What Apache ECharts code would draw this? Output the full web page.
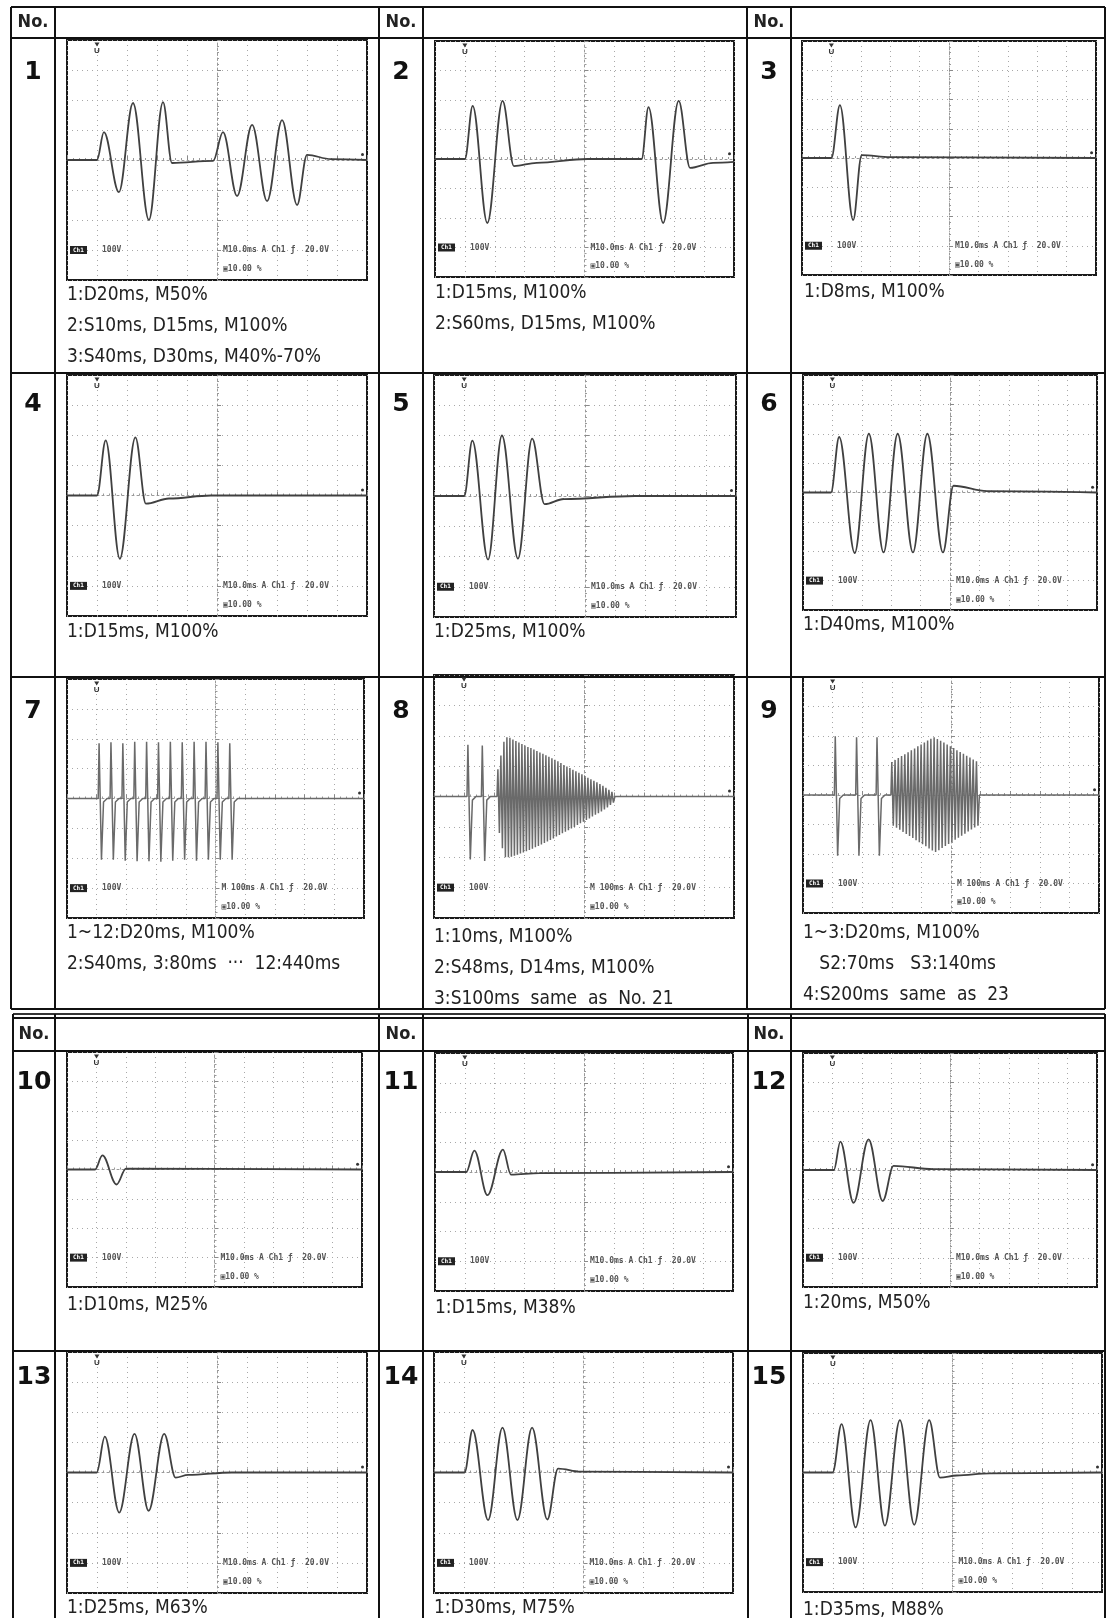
<!DOCTYPE html>
<html>
<head>
<meta charset="utf-8">
<script src="https://cdn.jsdelivr.net/npm/echarts@6/dist/echarts.min.js"></script>
<style>
  html, body { margin: 0; padding: 0; background: #fff; }
  #chart { width: 1106px; height: 1618px; }
</style>
</head>
<body>
<div id="chart"></div>
<script>
// scope traces, in divisions: x -5..5 (10 div), y -4..4 (8 div)
const wave1 = [[-5,0],[-4,0],[-3.77,0.93],[-3.27,-1.07],[-2.8,1.9],[-2.27,-2.0],[-1.8,1.93],[-1.5,-0.1],[-0.13,-0.03],[0.2,0.93],[0.67,-1.2],[1.17,1.17],[1.67,-1.37],[2.17,1.33],[2.67,-1.5],[3.0,0.17],[3.8,0.03],[5,0]];
const wave2 = [[-5,0],[-4,0],[-3.74,1.8],[-3.25,-2.17],[-2.74,1.97],[-2.36,-0.24],[-1.6,-0.13],[0.1,0],[1.91,0],[2.14,1.76],[2.63,-2.17],[3.15,1.97],[3.53,-0.3],[4.3,-0.13],[5,-0.1]];
const wave3 = [[-5,0],[-4,0],[-3.71,1.81],[-3.26,-2.12],[-2.97,0.1],[-2.0,0.03],[5,0]];
const wave4 = [[-5,0],[-4,0],[-3.71,1.83],[-3.24,-2.1],[-2.72,1.93],[-2.37,-0.27],[-1.6,-0.1],[-0.2,0],[5,0]];
const wave5 = [[-5,0],[-4,0],[-3.73,1.83],[-3.21,-2.1],[-2.75,2.0],[-2.22,-2.07],[-1.75,1.9],[-1.34,-0.27],[-0.7,-0.1],[1.65,0],[5,0]];
const wave6 = [[-5,0],[-4.05,0],[-3.77,1.89],[-3.24,-2.06],[-2.76,2.0],[-2.26,-2.04],[-1.78,2.0],[-1.26,-2.04],[-0.77,2.0],[-0.24,-2.04],[0.12,0.23],[1.26,0.05],[5,0]];
const wave10 = [[-5,0],[-4.05,0],[-3.8,0.48],[-3.32,-0.51],[-3.0,0.03],[5,0]];
const wave11 = [[-5,0],[-3.95,0],[-3.68,0.72],[-3.24,-0.78],[-2.72,0.75],[-2.45,-0.09],[-1.5,-0.04],[5,0]];
const wave12 = [[-5,0],[-3.95,0],[-3.73,0.97],[-3.28,-1.12],[-2.77,1.05],[-2.29,-1.06],[-1.92,0.14],[-0.57,0.03],[5,0]];
const wave13 = [[-5,0],[-4.01,0],[-3.74,1.19],[-3.26,-1.33],[-2.75,1.28],[-2.28,-1.27],[-1.76,1.28],[-1.38,-0.17],[-0.96,-0.08],[0.5,0],[5,0]];
const wave14 = [[-5,0],[-3.98,0],[-3.71,1.41],[-3.19,-1.58],[-2.71,1.49],[-2.21,-1.58],[-1.72,1.49],[-1.21,-1.56],[-0.85,0.13],[-0.1,0.03],[5,0]];
const wave15 = [[-5,0],[-4.01,0],[-3.71,1.62],[-3.24,-1.84],[-2.74,1.75],[-2.26,-1.78],[-1.76,1.75],[-1.28,-1.75],[-0.78,1.75],[-0.42,-0.17],[0.14,-0.1],[1.25,-0.03],[5,0]];

// No.7: twelve short pulses
const spike7At = [-3.95,-3.55,-3.15,-2.75,-2.35,-1.95,-1.55,-1.15,-0.75,-0.35,0.05,0.45];
const spike7Up = [1.85,1.88,1.85,1.9,1.9,1.88,1.9,1.88,1.9,1.9,1.88,1.85];
const spike7Down = [-2.05,-2.05,-2.08,-2.1,-2.1,-2.12,-2.08,-2.05,-2.08,-2.05,-2.05,-2.05];

// No.8: two pulses then a fading burst
const spike8At = [-3.9,-3.42];
const spike8Up = [1.7,1.68];
const spike8Down = [-2.07,-2.12];
const burst8At = [-2.87,-2.77,-2.67,-2.57,-2.47,-2.37,-2.27,-2.17,-2.07,-1.97,-1.87,-1.77,-1.67,-1.57,-1.47,-1.37,-1.27,-1.17,-1.07,-0.97,-0.87,-0.77,-0.67,-0.57,-0.47,-0.37,-0.27,-0.17,-0.07,0.03,0.13,0.23,0.33,0.43,0.53,0.63,0.73,0.83,0.93];
const burst8Up = [0.9,1.35,1.8,1.95,1.93,1.88,1.83,1.78,1.73,1.68,1.63,1.6,1.55,1.5,1.45,1.41,1.36,1.31,1.26,1.21,1.16,1.1,1.04,0.99,0.94,0.88,0.83,0.78,0.73,0.67,0.62,0.57,0.52,0.47,0.41,0.35,0.29,0.22,0.15];
const burst8Down = [-1.2,-1.7,-2.0,-2.0,-1.98,-1.95,-1.92,-1.88,-1.84,-1.8,-1.76,-1.72,-1.67,-1.63,-1.58,-1.53,-1.48,-1.43,-1.38,-1.32,-1.27,-1.21,-1.16,-1.11,-1.05,-1.0,-0.94,-0.88,-0.83,-0.77,-0.72,-0.66,-0.6,-0.55,-0.49,-0.43,-0.36,-0.28,-0.2];

// No.9: three pulses then a swelling burst
const spike9At = [-3.94,-3.22,-2.53];
const spike9Up = [1.99,1.96,1.96];
const spike9Down = [-2.06,-2.06,-2.06];
const burst9At = [-2.0,-1.89,-1.78,-1.67,-1.56,-1.45,-1.34,-1.23,-1.12,-1.01,-0.9,-0.79,-0.68,-0.57,-0.46,-0.35,-0.24,-0.13,-0.02,0.09,0.2,0.31,0.42,0.53,0.64,0.75,0.86];
const burst9Up = [1.12,1.19,1.25,1.32,1.38,1.45,1.52,1.58,1.65,1.71,1.78,1.85,1.91,1.96,1.9,1.84,1.78,1.71,1.65,1.59,1.52,1.46,1.4,1.33,1.27,1.2,1.14];
const burst9Down = [-1.04,-1.11,-1.18,-1.25,-1.32,-1.39,-1.46,-1.53,-1.6,-1.67,-1.74,-1.81,-1.88,-1.93,-1.87,-1.8,-1.73,-1.66,-1.59,-1.52,-1.45,-1.38,-1.31,-1.24,-1.17,-1.1,-1.04];

// cell texts
const cellNames = ['1','2','3','4','5','6','7','8','9','10','11','12','13','14','15'];
const timeBase = ['M10.0ms','M10.0ms','M10.0ms','M10.0ms','M10.0ms','M10.0ms','M 100ms','M 100ms','M 100ms','M10.0ms','M10.0ms','M10.0ms','M10.0ms','M10.0ms','M10.0ms'];
const captions = [
  ['1:D20ms, M50%', '2:S10ms, D15ms, M100%', '3:S40ms, D30ms, M40%-70%'],
  ['1:D15ms, M100%', '2:S60ms, D15ms, M100%'],
  ['1:D8ms, M100%'],
  ['1:D15ms, M100%'],
  ['1:D25ms, M100%'],
  ['1:D40ms, M100%'],
  ['1~12:D20ms, M100%', '2:S40ms, 3:80ms  ···  12:440ms'],
  ['1:10ms, M100%', '2:S48ms, D14ms, M100%', '3:S100ms  same  as  No. 21'],
  ['1~3:D20ms, M100%', '   S2:70ms   S3:140ms', '4:S200ms  same  as  23'],
  ['1:D10ms, M25%'],
  ['1:D15ms, M38%'],
  ['1:20ms, M50%'],
  ['1:D25ms, M63%'],
  ['1:D30ms, M75%'],
  ['1:D35ms, M88%']
];

function pulseTrain(at, up, down) {
  const pts = [];
  at.forEach((s, i) => {
    pts.push([s, 0], [s + 0.03, up[i]], [s + 0.11, down[i]], [s + 0.18, -0.12], [s + 0.3, 0]);
  });
  return pts;
}
function burst(at, up, down) {
  const pts = [[at[0] - 0.03, 0]];
  at.forEach((s, i) => pts.push([s, up[i]], [s + 0.05, down[i]]));
  pts.push([at[at.length - 1] + 0.1, 0]);
  return pts;
}

const wave7 = [[-5,0], ...pulseTrain(spike7At, spike7Up, spike7Down), [5,0]];
const wave8 = [[-5,0], ...pulseTrain(spike8At, spike8Up, spike8Down), ...burst(burst8At, burst8Up, burst8Down), [5,0]];
const wave9 = [[-5,0], ...pulseTrain(spike9At, spike9Up, spike9Down), ...burst(burst9At, burst9Up, burst9Down), [5,0]];

const waves = [wave1, wave2, wave3, wave4, wave5, wave6, wave7, wave8, wave9, wave10, wave11, wave12, wave13, wave14, wave15];
const dense = [false, false, false, false, false, false, true, true, true, false, false, false, false, false, false];

// layout: scope screens [left, top, width, height]
const boxes = [
  [67, 40, 300, 240], [435, 41, 299, 236], [802, 41, 294, 234],
  [67, 375, 300, 241], [434, 375, 302, 242], [803, 375, 294, 235],
  [67, 679, 297, 239], [434, 675, 300, 243], [803, 677, 296, 236],
  [67, 1052, 295, 235], [435, 1053, 298, 238], [803, 1053, 294, 234],
  [67, 1352, 300, 241], [434, 1352, 299, 241], [803, 1353, 299, 239]
];
const numberPos = [
  [33, 72], [401, 72], [769, 72],
  [33, 404], [401, 404], [769, 404],
  [33, 711], [401, 711], [769, 711],
  [34, 1082], [401, 1082], [769, 1082],
  [34, 1377], [401, 1377], [769, 1377]
];
const captionPos = [
  [67, 295], [435, 293], [804, 292],
  [67, 632], [434, 632], [803, 625],
  [67, 933], [434, 937], [803, 933],
  [67, 1305], [435, 1308], [803, 1303],
  [67, 1608], [434, 1608], [803, 1610]
];
const captionStep = 31;

const capFont = "19px 'Liberation Sans Narrow', 'DejaVu Sans Condensed', 'Liberation Sans', sans-serif";
const numFont = "bold 25px 'DejaVu Sans', sans-serif";
const noFont = "bold 18px 'Liberation Sans Narrow', 'DejaVu Sans Condensed', 'Liberation Sans', sans-serif";
const tinyFont = "bold 8px 'DejaVu Sans Mono', monospace";

function txt(x, y, s, font, fill, align) {
  return {
    type: 'text', silent: true, z: 10,
    style: {
      text: s, x: x, y: y, font: font, fill: fill || '#222',
      align: align || 'left', textAlign: align || 'left',
      verticalAlign: 'middle', textVerticalAlign: 'middle'
    }
  };
}
function ln(x1, y1, x2, y2, w, c) {
  return {
    type: 'line', silent: true, z: 5,
    shape: { x1: x1, y1: y1, x2: x2, y2: y2 },
    style: { stroke: c || '#111', lineWidth: w || 2 }
  };
}

const graphic = [];
// table 1
[7, 38, 373, 677, 1009].forEach(y => graphic.push(ln(11, y, 1105, y, 2)));
[11, 55, 379, 423, 747, 791, 1105].forEach(x => graphic.push(ln(x, 7, x, 1009, 2)));
// table 2
graphic.push(ln(13, 1014, 1105, 1014, 2, '#333'));
[1018, 1051, 1351].forEach(y => graphic.push(ln(13, y, 1105, y, 2)));
[13, 55, 379, 423, 748, 791, 1105].forEach(x => graphic.push(ln(x, 1014, x, 1618, 2)));
// header "No."
[[33, 22], [401, 22], [769, 22], [34, 1034], [401, 1034], [769, 1034]].forEach(p => {
  graphic.push(txt(p[0], p[1], 'No.', noFont, '#222', 'center'));
});

cellNames.forEach((name, i) => {
  graphic.push(txt(numberPos[i][0], numberPos[i][1], name, numFont, '#111', 'center'));
  captions[i].forEach((line, k) => {
    graphic.push(txt(captionPos[i][0], captionPos[i][1] + k * captionStep, line, capFont, '#222'));
  });
  const b = boxes[i];
  const y1 = b[1] + b[3] * 0.875;
  const y2 = b[1] + b[3] * 0.955;
  graphic.push({
    type: 'rect', silent: true, z: 10,
    shape: { x: b[0] + 3, y: y1 - 4, width: 17, height: 8 },
    style: { fill: '#222' }
  });
  graphic.push(txt(b[0] + 6, y1, 'Ch1', "bold 6px 'DejaVu Sans Mono', monospace", '#fff'));
  graphic.push(txt(b[0] + 35, y1, '100V', tinyFont, '#555'));
  graphic.push(txt(b[0] + b[2] * 0.52, y1, timeBase[i] + ' A Ch1 ƒ  20.0V', tinyFont, '#555'));
  graphic.push(txt(b[0] + b[2] * 0.52, y2, '▣10.00 %', tinyFont, '#555'));
});

const grids = [], xAxes = [], yAxes = [], series = [];
waves.forEach((w, i) => {
  const b = boxes[i];
  grids.push({
    left: b[0], top: b[1], width: b[2], height: b[3],
    show: true, borderColor: '#1a1a1a', borderWidth: 2, backgroundColor: '#fff'
  });
  const axisCommon = {
    gridIndex: i, type: 'value',
    axisLine: { show: true, onZero: true, lineStyle: { color: '#9a9a9a', width: 1, type: [2, 3] } },
    axisTick: { show: true, inside: true, length: 4, lineStyle: { color: '#8a8a8a' } },
    minorTick: { show: true, splitNumber: 5, length: 2, lineStyle: { color: '#9a9a9a' } },
    axisLabel: { show: false },
    splitLine: { show: true, lineStyle: { color: '#a8a8a8', width: 1, type: [1, 4] } }
  };
  xAxes.push(Object.assign({}, axisCommon, { min: -5, max: 5, interval: 1 }));
  yAxes.push(Object.assign({}, axisCommon, { min: -4, max: 4, interval: 1 }));
  series.push({
    type: 'line', xAxisIndex: i, yAxisIndex: i,
    data: w,
    showSymbol: false, symbol: 'none',
    smooth: dense[i] ? false : 0.36,
    smoothMonotone: 'x',
    lineStyle: { color: dense[i] ? '#6a6a6a' : '#404040', width: dense[i] ? 1.5 : 1.8 },
    silent: true,
    markPoint: {
      silent: true, animation: false,
      data: [
        {
          coord: [-4, 3.85], symbol: 'triangle', symbolRotate: 180, symbolSize: [5, 4],
          itemStyle: { color: '#333' },
          label: { show: true, formatter: 'U', position: 'bottom', distance: 0, fontSize: 8, fontWeight: 'bold', color: '#333' }
        },
        {
          coord: [4.85, 0.18], symbol: 'circle', symbolSize: 3,
          itemStyle: { color: '#333' }, label: { show: false }
        }
      ]
    }
  });
});

const chart = echarts.init(document.getElementById('chart'), null, { renderer: 'canvas' });
chart.setOption({
  animation: false,
  backgroundColor: '#fff',
  grid: grids,
  xAxis: xAxes,
  yAxis: yAxes,
  series: series,
  graphic: graphic
});
</script>
</body>
</html>
